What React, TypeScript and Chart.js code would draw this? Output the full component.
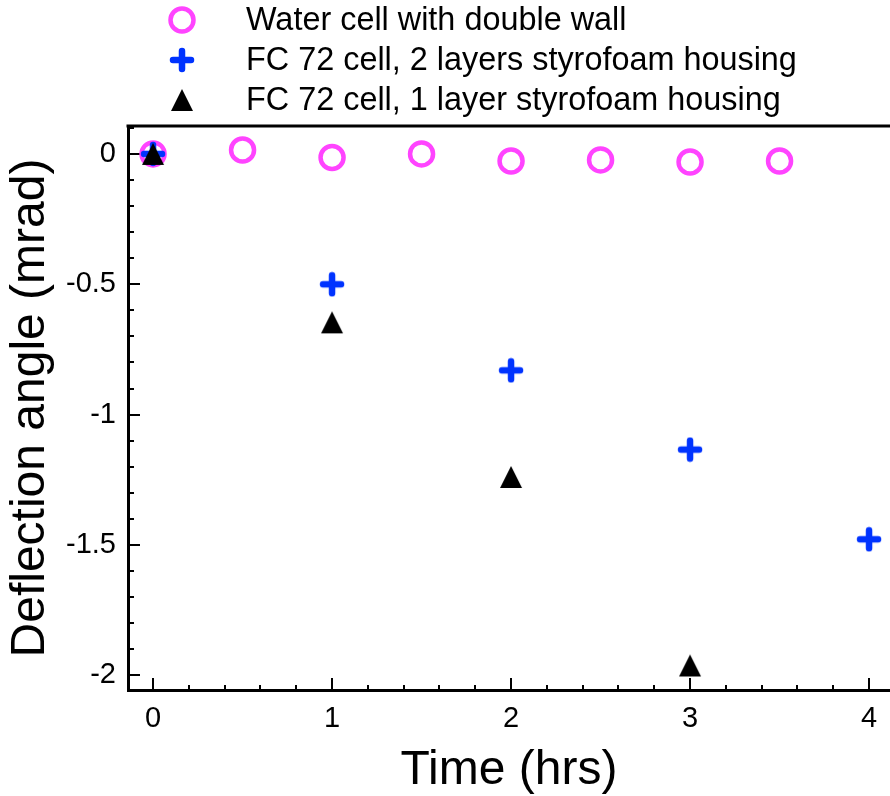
import React, { useEffect, useRef } from "react";
import { Chart, registerables } from "chart.js";

Chart.register(...registerables);

// ---- data ----
const waterTimes = [0, 0.5, 1, 1.5, 2, 2.5, 3, 3.5];
const waterAngles = [0, 0.015, -0.014, 0, -0.027, -0.023, -0.031, -0.027];

const fc2Times = [0, 1, 2, 3, 4];
const fc2Angles = [0, -0.5, -0.83, -1.134, -1.478];

const fc1Times = [0, 1, 2, 3];
const fc1Angles = [0, -0.646, -1.239, -1.962];

const seriesLabels = [
  "Water cell with double wall",
  "FC 72 cell, 2 layers styrofoam housing",
  "FC 72 cell, 1 layer styrofoam housing",
];

const xTickValues = [0, 1, 2, 3, 4];
const yTickValues = [0, -0.5, -1, -1.5, -2];

const FONT = "'Liberation Sans', Arial, Helvetica, sans-serif";
const MAGENTA = "#ff44ff";
const BLUE = "#0033ff";

function makePlus(): HTMLCanvasElement {
  const c = document.createElement("canvas");
  c.width = 26;
  c.height = 26;
  const g = c.getContext("2d")!;
  g.strokeStyle = BLUE;
  g.lineWidth = 6.5;
  g.lineCap = "round";
  g.beginPath();
  g.moveTo(4, 13);
  g.lineTo(22, 13);
  g.moveTo(13, 4);
  g.lineTo(13, 22);
  g.stroke();
  return c;
}

function makeTriangle(): HTMLCanvasElement {
  const c = document.createElement("canvas");
  c.width = 24;
  c.height = 24;
  const g = c.getContext("2d")!;
  g.fillStyle = "#000";
  g.beginPath();
  g.moveTo(12, 1);
  g.lineTo(23, 23);
  g.lineTo(1, 23);
  g.closePath();
  g.fill();
  return c;
}

export default function App() {
  const ref = useRef<HTMLCanvasElement | null>(null);

  useEffect(() => {
    document.body.style.margin = "0";
    const plus = makePlus();
    const tri = makeTriangle();

    const frame = {
      id: "frame",
      beforeDatasetsDraw(chart: any) {
        const { ctx, chartArea } = chart;
        const xs = chart.scales.x;
        const ys = chart.scales.y;
        ctx.save();
        ctx.strokeStyle = "#000";
        // top border
        ctx.lineWidth = 3;
        ctx.beginPath();
        ctx.moveTo(chartArea.left - 1.5, chartArea.top);
        ctx.lineTo(chartArea.right, chartArea.top);
        ctx.stroke();
        // inward ticks
        ctx.lineWidth = 2;
        ctx.beginPath();
        for (let i = 0; i <= 20; i++) {
          const v = i / 5;
          const px = Math.round(xs.getPixelForValue(v));
          const len = i % 5 === 0 ? 12 : 5;
          ctx.moveTo(px, chartArea.bottom);
          ctx.lineTo(px, chartArea.bottom - len);
        }
        for (let i = -20; i <= 1; i++) {
          const v = i / 10;
          const py = Math.round(ys.getPixelForValue(v));
          const len = i % 5 === 0 ? 12 : 6;
          ctx.moveTo(chartArea.left, py);
          ctx.lineTo(chartArea.left + len, py);
        }
        ctx.stroke();
        ctx.restore();
      },
      afterDraw(chart: any) {
        const { ctx } = chart;
        ctx.save();
        const mx = 182;
        const tx = 246;
        const rows = [20, 60, 100];
        // circle
        ctx.strokeStyle = MAGENTA;
        ctx.lineWidth = 4.5;
        ctx.beginPath();
        ctx.arc(mx, rows[0], 11.5, 0, Math.PI * 2);
        ctx.stroke();
        ctx.drawImage(plus, mx - 13, rows[1] - 13);
        ctx.drawImage(tri, mx - 12, rows[2] - 12);
        ctx.fillStyle = "#000";
        ctx.font = `32.4px ${FONT}`;
        ctx.textBaseline = "middle";
        ctx.textAlign = "left";
        seriesLabels.forEach((t, i) => ctx.fillText(t, tx, rows[i] + 1));
        ctx.restore();
      },
    };

    const chart = new Chart(ref.current!, {
      type: "scatter",
      data: {
        datasets: [
          {
            label: seriesLabels[0],
            data: waterTimes.map((x, i) => ({ x, y: waterAngles[i] })),
            pointStyle: "circle",
            pointRadius: 11.5,
            pointBorderWidth: 4.5,
            borderColor: MAGENTA,
            backgroundColor: "rgba(0,0,0,0)",
            order: 2,
          },
          {
            label: seriesLabels[1],
            data: fc2Times.map((x, i) => ({ x, y: fc2Angles[i] })),
            pointStyle: plus,
            pointRadius: 13,
            borderColor: BLUE,
            backgroundColor: BLUE,
            order: 1,
          },
          {
            label: seriesLabels[2],
            data: fc1Times.map((x, i) => ({ x, y: fc1Angles[i] })),
            pointStyle: tri,
            pointRadius: 12,
            borderColor: "#000",
            backgroundColor: "#000",
            order: 0,
          },
        ],
      },
      options: {
        responsive: false,
        animation: false,
        clip: false,
        layout: { autoPadding: false, padding: { top: 126, left: 0, right: 0, bottom: 0 } },
        plugins: { legend: { display: false }, tooltip: { enabled: false } },
        scales: {
          x: {
            type: "linear",
            min: -0.14,
            max: 4.117,
            afterFit: (s: any) => {
              s.height = 106;
              s.paddingLeft = 0;
              s.paddingRight = 0;
            },
            afterBuildTicks: (s: any) => {
              s.ticks = xTickValues.map((v) => ({ value: v }));
            },
            ticks: {
              color: "#000",
              font: { family: FONT, size: 29 },
              padding: 12,
              maxRotation: 0,
              callback: (v: any) => String(v),
            },
            grid: { display: false, drawTicks: false, tickLength: 0 },
            border: { display: true, color: "#000", width: 3 },
            title: {
              display: true,
              text: "Time (hrs)",
              color: "#000",
              font: { family: FONT, size: 48 },
              padding: { top: 0, bottom: -4 },
            },
          },
          y: {
            type: "linear",
            min: -2.056,
            max: 0.107,
            afterFit: (s: any) => {
              s.width = 128;
              s.paddingTop = 0;
              s.paddingBottom = 0;
            },
            afterBuildTicks: (s: any) => {
              s.ticks = yTickValues.map((v) => ({ value: v }));
            },
            ticks: {
              color: "#000",
              font: { family: FONT, size: 29 },
              padding: 12,
              callback: (v: any) => String(v),
            },
            grid: { display: false, drawTicks: false, tickLength: 0 },
            border: { display: true, color: "#000", width: 3 },
            title: {
              display: true,
              text: "Deflection angle (mrad)",
              color: "#000",
              font: { family: FONT, size: 48 },
              padding: { top: 2, bottom: 0 },
            },
          },
        },
      },
      plugins: [frame],
    });
    return () => chart.destroy();
  }, []);

  return (
    <div style={{ position: "absolute", left: 0, top: 0, width: 890, height: 796 }}>
      <canvas ref={ref} width={890} height={796} />
    </div>
  );
}
